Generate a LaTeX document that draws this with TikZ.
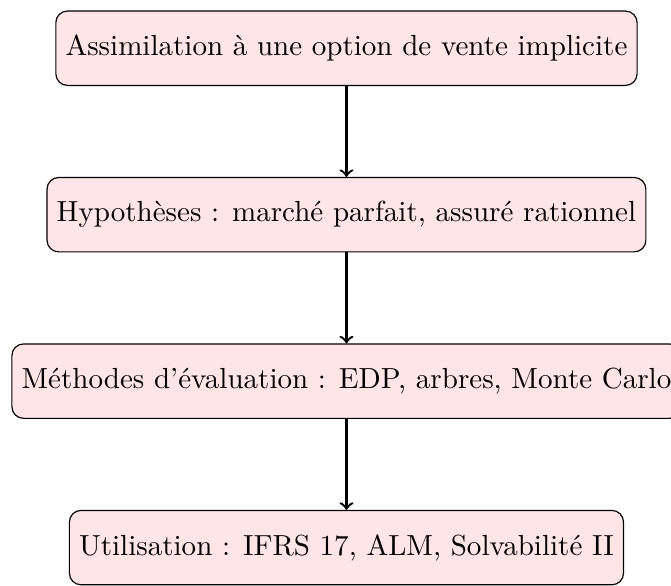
\documentclass[tikz,border=0pt]{standalone}
\usepackage{xcolor}
\usepackage{tikz}
\usetikzlibrary{positioning, calc}
\tikzset{
  boite/.style={rectangle, rounded corners, draw=black, fill=red!10,
    minimum height=9mm, align=center},
  fleche/.style={->, thick}
}
\begin{document}
\begin{tikzpicture}[node distance=11mm]

    \node[boite] (assim) {Assimilation à une option de vente implicite};
    \node[boite, below=of assim] (hyp) {Hypothèses : marché parfait, assuré rationnel};
    \node[boite, below=of hyp] (meth) {Méthodes d'évaluation : EDP, arbres, Monte Carlo};
    \node[boite, below=of meth] (util) {Utilisation : IFRS 17, ALM, Solvabilité II};

    \draw[fleche] (assim) -- (hyp);
    \draw[fleche] (hyp) -- (meth);
    \draw[fleche] (meth) -- (util);

    \pgfresetboundingbox
    \useasboundingbox ($(meth.west |- assim.north)+(-3.9pt,3.6pt)$) rectangle ++(231pt,-201.4pt);
  \end{tikzpicture}
\end{document}
